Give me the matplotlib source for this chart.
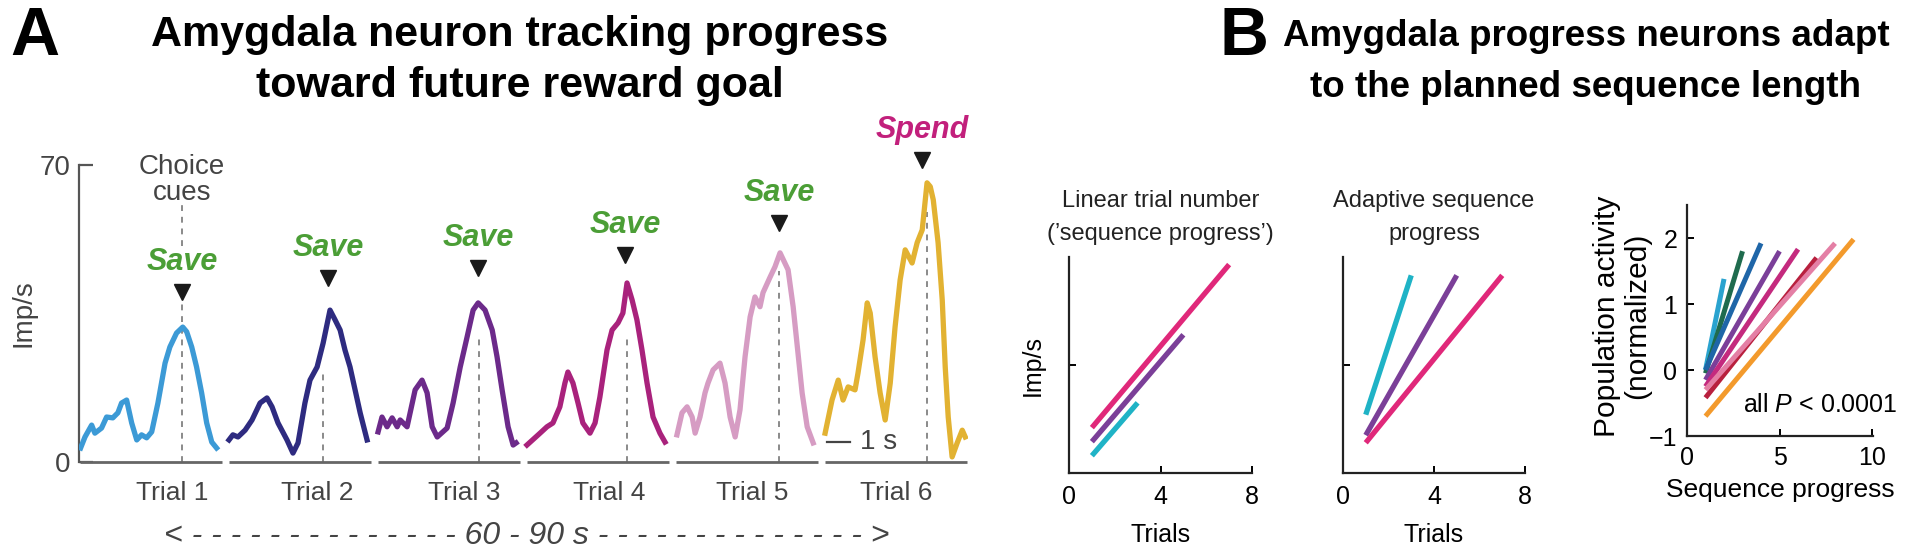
import matplotlib.pyplot as plt
from matplotlib import font_manager

plt.rcParams['font.family'] = ['Liberation Sans', 'DejaVu Sans']
plt.rcParams['mathtext.fontset'] = 'custom'
plt.rcParams['mathtext.it'] = 'Liberation Sans:italic'
plt.rcParams['mathtext.rm'] = 'Liberation Sans'

# --- Panel A: single amygdala neuron, firing rate per trial (local time s, imp/s) ---
trial_onsets = [0.0, 6.48, 12.96, 19.43, 25.91, 32.39]
segment_len = 6.17

t1 = [0.03, 0.22, 0.51, 0.65, 0.94, 1.16, 1.43, 1.65, 1.81, 2.03, 2.25, 2.47, 2.68, 2.90,
      3.12, 3.39, 3.70, 3.91, 4.20, 4.47, 4.64, 4.86, 5.07, 5.29, 5.51, 5.73, 5.94]
r1 = [3.3, 5.9, 8.7, 6.8, 8.0, 10.6, 10.4, 11.6, 13.9, 14.6, 9.2, 5.2, 6.4, 5.7,
      7.1, 13.9, 23.3, 27.1, 30.4, 31.8, 30.7, 27.1, 22.4, 16.3, 9.2, 4.7, 3.3]

t2 = [0.0, 0.17, 0.39, 0.70, 1.00, 1.35, 1.65, 1.87, 2.13, 2.52, 2.78, 3.00, 3.30, 3.52,
      3.83, 4.09, 4.39, 4.61, 4.83, 5.04, 5.26, 5.48, 5.70, 6.00]
r2 = [5.2, 6.4, 5.9, 7.5, 9.9, 13.9, 15.1, 13.0, 9.2, 5.2, 2.1, 4.5, 13.9, 19.3,
      22.4, 28.0, 35.8, 33.5, 31.1, 26.4, 22.4, 17.0, 11.6, 5.2]

t3 = [0.0, 0.17, 0.39, 0.61, 0.83, 0.96, 1.26, 1.61, 1.91, 2.13, 2.35, 2.57, 3.00, 3.26,
      3.57, 3.87, 4.13, 4.35, 4.65, 4.96, 5.17, 5.39, 5.65, 5.87, 6.00]
r3 = [7.1, 10.6, 8.3, 10.4, 8.3, 9.9, 8.3, 17.0, 19.3, 16.3, 8.3, 5.9, 8.0, 13.9,
      22.4, 29.5, 35.8, 37.5, 35.8, 31.1, 24.8, 17.0, 8.3, 4.0, 4.5]

t4 = [0.0, 0.57, 0.87, 1.13, 1.43, 1.65, 1.78, 2.00, 2.22, 2.43, 2.74, 2.96, 3.17, 3.48,
      3.70, 3.96, 4.17, 4.35, 4.57, 4.78, 5.00, 5.22, 5.48, 5.78, 6.00]
r4 = [4.0, 6.8, 8.3, 9.2, 13.0, 18.6, 21.2, 18.6, 13.9, 9.2, 6.8, 9.2, 15.3, 26.4,
      31.1, 32.8, 35.1, 42.2, 38.2, 33.5, 26.4, 18.6, 10.6, 6.8, 4.7]

t5 = [0.04, 0.26, 0.48, 0.70, 0.83, 1.04, 1.26, 1.39, 1.61, 1.91, 2.13, 2.35, 2.57, 2.78,
      3.00, 3.22, 3.43, 3.65, 3.78, 4.09, 4.30, 4.52, 4.87, 5.09, 5.30, 5.48, 5.70, 5.96]
r5 = [6.4, 11.6, 13.0, 10.6, 6.8, 10.6, 16.3, 18.6, 21.7, 23.3, 18.6, 10.6, 5.9, 12.3,
      24.8, 34.2, 38.9, 36.6, 39.9, 43.6, 46.0, 49.3, 45.3, 36.6, 25.7, 16.3, 8.3, 4.5]

t6 = [0.0, 0.30, 0.57, 0.78, 1.00, 1.30, 1.43, 1.65, 1.83, 1.96, 2.17, 2.39, 2.61, 2.83,
      3.04, 3.26, 3.48, 3.78, 4.00, 4.22, 4.43, 4.57, 4.70, 4.91, 5.09, 5.22, 5.35, 5.52,
      5.74, 5.96, 6.09]
r6 = [6.8, 14.6, 19.3, 14.6, 17.7, 17.0, 21.0, 28.8, 37.5, 35.1, 24.8, 16.3, 9.9, 18.6,
      31.8, 42.9, 50.0, 46.9, 51.7, 54.7, 65.8, 64.9, 61.8, 51.7, 38.2, 22.4, 10.6, 1.2,
      4.5, 7.5, 5.9]

trial_times = [t1, t2, t3, t4, t5, t6]
trial_rates = [r1, r2, r3, r4, r5, r6]
trial_colors = ['#3c9ad6', '#2e2b80', '#6c2a8a', '#a9227c', '#d69cc3', '#e2b232']
trial_names = ['Trial 1', 'Trial 2', 'Trial 3', 'Trial 4', 'Trial 5', 'Trial 6']
trial_label_x = [4.0, 10.3, 16.7, 23.0, 29.2, 35.5]

cue_times = [4.43, 4.09, 4.39, 4.35, 4.48, 4.43]
cue_tops = [61, 22, 29, 29, 45, 59]
arrow_times = [4.43, 4.30, 4.35, 4.26, 4.48, 4.22]
arrow_levels = [40.1, 43.4, 45.8, 48.8, 56.4, 71.2]
choices = ['Save', 'Save', 'Save', 'Save', 'Save', 'Spend']
choice_colors = {'Save': '#4b9e36', 'Spend': '#c2207c'}

# --- Panel B: regression lines ---
seq_ends = [3, 5, 7]
seq_colors = ['#1fb3c6', '#7b3f98', '#e0287a']
linear_start = [0.16, 0.29, 0.42]
linear_end = [0.65, 1.28, 1.93]
adaptive_start = [0.54, 0.35, 0.28]
adaptive_end = [1.83, 1.83, 1.83]

pop_lengths = [2, 3, 4, 5, 6, 7, 8, 9]
pop_start = [0.0, -0.05, 0.0, -0.15, -0.25, -0.42, -0.30, -0.70]
pop_end = [1.38, 1.80, 1.92, 1.80, 1.83, 1.70, 1.92, 1.98]
pop_colors = ['#2aa3cf', '#1f6b4e', '#1f66a8', '#7b3f99', '#c42a7e', '#b8203e', '#e47fa5', '#f39a2c']

W, H = 1907, 550
fig = plt.figure(figsize=(W / 100, H / 100), dpi=100)
fig.patch.set_facecolor('white')


def fig_rect(x0, y_top, x1, y_bot):
    return [x0 / W, 1 - y_bot / H, (x1 - x0) / W, (y_bot - y_top) / H]


grey_txt = '#444444'

# --- Panel A ---
axA = fig.add_axes(fig_rect(79, 165, 968, 462))
for i in range(6):
    x0 = trial_onsets[i]
    axA.plot([x0 + t for t in trial_times[i]], trial_rates[i], color=trial_colors[i],
             lw=3.8, solid_joinstyle='round', zorder=3)
    axA.hlines(0, x0, x0 + segment_len, color='#666666', lw=2, clip_on=False)
    cx = x0 + cue_times[i]
    if i == 0:
        axA.plot([cx, cx], [0, 38], ls=(0, (3, 3)), color='#8a8a8a', lw=1.4, zorder=1)
        axA.plot([cx, cx], [51, cue_tops[i]], ls=(0, (3, 3)), color='#8a8a8a', lw=1.4, zorder=1)
    else:
        axA.plot([cx, cx], [0, cue_tops[i]], ls=(0, (3, 3)), color='#8a8a8a', lw=1.4, zorder=1)
    ax_ = x0 + arrow_times[i]
    axA.plot(ax_, arrow_levels[i], marker='v', color='#1a1a1a', ms=11, clip_on=False, zorder=4)
    axA.text(ax_, arrow_levels[i] + 7, choices[i], ha='center', va='center', fontsize=22,
             fontweight='bold', style='italic', color=choice_colors[choices[i]])
    axA.text(trial_label_x[i], -7.3, trial_names[i], ha='center', va='center',
             fontsize=19, color=grey_txt)

axA.text(trial_onsets[0] + cue_times[0], 66.5, 'Choice\ncues', ha='center', va='center',
         fontsize=20, color=grey_txt, linespacing=1.0)

# 1 s scale bar
axA.plot([32.48, 33.48], [4.7, 4.7], color='#444444', lw=1.6)
axA.text(33.9, 4.7, '1 s', ha='left', va='center', fontsize=20, color=grey_txt)

axA.text(19.4, -17.4, '<' + ' -' * 14 + ' 60 - 90 s ' + '- ' * 14 + '>', ha='center',
         va='center', fontsize=23, style='italic', color=grey_txt)

axA.set_xlim(-0.04, 38.6)
axA.set_ylim(0, 70)
for s in ['top', 'right', 'bottom']:
    axA.spines[s].set_visible(False)
axA.spines['left'].set_color('#555555')
axA.spines['left'].set_linewidth(1.6)
axA.set_xticks([])
axA.set_yticks([0, 70])
axA.tick_params(axis='y', direction='in', length=10, width=1.6, color='#555555',
                labelsize=20, labelcolor=grey_txt, pad=6)
axA.text(-0.062, 0.5, 'Imp/s', transform=axA.transAxes, rotation=90, ha='center',
         va='center', fontsize=20, color=grey_txt)

# --- Panel B, left two plots ---
def style_small(ax):
    ax.set_xlim(0, 8)
    ax.set_ylim(0, 2)
    ax.set_xticks([0, 4, 8])
    ax.set_yticks([1])
    for s in ['top', 'right']:
        ax.spines[s].set_visible(False)
    for s in ['left', 'bottom']:
        ax.spines[s].set_linewidth(1.6)
        ax.spines[s].set_color('#222222')
    ax.tick_params(direction='in', length=5, width=1.4, labelsize=18, pad=9)
    ax.tick_params(axis='y', labelleft=False)
    ax.set_xlabel('Trials', fontsize=18)
    ax.xaxis.set_label_coords(0.5, -0.23)


axB1 = fig.add_axes(fig_rect(1069, 257, 1252, 473))
for i in range(3):
    axB1.plot([1, seq_ends[i]], [linear_start[i], linear_end[i]], color=seq_colors[i],
              lw=3.8, solid_capstyle='butt')
style_small(axB1)
axB1.set_title("Linear trial number\n(\u2019sequence progress\u2019)", fontsize=17, pad=12,
               linespacing=1.65, color='#222222')
axB1.text(-0.2, 0.5, 'Imp/s', transform=axB1.transAxes, rotation=90, ha='center',
          va='center', fontsize=18)

axB2 = fig.add_axes(fig_rect(1343, 257, 1525, 473))
for i in range(3):
    axB2.plot([1, seq_ends[i]], [adaptive_start[i], adaptive_end[i]], color=seq_colors[i],
              lw=3.8, solid_capstyle='butt')
style_small(axB2)
axB2.set_title('Adaptive sequence\nprogress', fontsize=17, pad=12, linespacing=1.65,
               color='#222222')

# --- Panel B, population plot ---
axB3 = fig.add_axes(fig_rect(1687, 205, 1873, 436))
for i in range(len(pop_lengths)):
    axB3.plot([1, pop_lengths[i]], [pop_start[i], pop_end[i]], color=pop_colors[i],
              lw=3.6, solid_capstyle='butt')
axB3.set_xlim(0, 10.05)
axB3.set_ylim(-1, 2.5)
axB3.set_xticks([0, 5, 10])
axB3.set_yticks([-1, 0, 1, 2])
for s in ['top', 'right']:
    axB3.spines[s].set_visible(False)
for s in ['left', 'bottom']:
    axB3.spines[s].set_linewidth(1.6)
    axB3.spines[s].set_color('#222222')
axB3.tick_params(direction='in', length=5, width=1.4, labelsize=18, pad=7)
axB3.set_xlabel('Sequence progress', fontsize=19)
axB3.xaxis.set_label_coords(0.5, -0.18)
axB3.text(-0.35, 0.52, 'Population activity\n(normalized)', transform=axB3.transAxes,
          rotation=90, ha='center', va='center', fontsize=21.5, linespacing=1.1)
axB3.text(3.0, -0.53, 'all $\\mathit{P}$ < 0.0001', ha='left', va='center', fontsize=18)

# --- titles ---
font_names = {f.name for f in font_manager.fontManager.ttflist}
if 'Liberation Sans Narrow' in font_names:
    b_font, b_size = ['Liberation Sans Narrow', 'Liberation Sans'], 32
else:
    b_font, b_size = ['Liberation Sans', 'DejaVu Sans'], 26.5

fig.text(10 / W, 1 - 55 / H, 'A', fontsize=49, fontweight='bold', va='baseline')
fig.text(1220 / W, 1 - 55 / H, 'B', fontsize=49, fontweight='bold', va='baseline')
fig.text(520 / W, 1 - 46 / H, 'Amygdala neuron tracking progress', fontsize=31,
         fontweight='bold', ha='center', va='baseline')
fig.text(520 / W, 1 - 97 / H, 'toward future reward goal', fontsize=31,
         fontweight='bold', ha='center', va='baseline')
fig.text(1586 / W, 1 - 46 / H, 'Amygdala progress neurons adapt', fontsize=b_size,
         family=b_font, fontweight='bold', ha='center', va='baseline')
fig.text(1586 / W, 1 - 97 / H, 'to the planned sequence length', fontsize=b_size,
         family=b_font, fontweight='bold', ha='center', va='baseline')

fig.savefig('out.png', dpi=100)
